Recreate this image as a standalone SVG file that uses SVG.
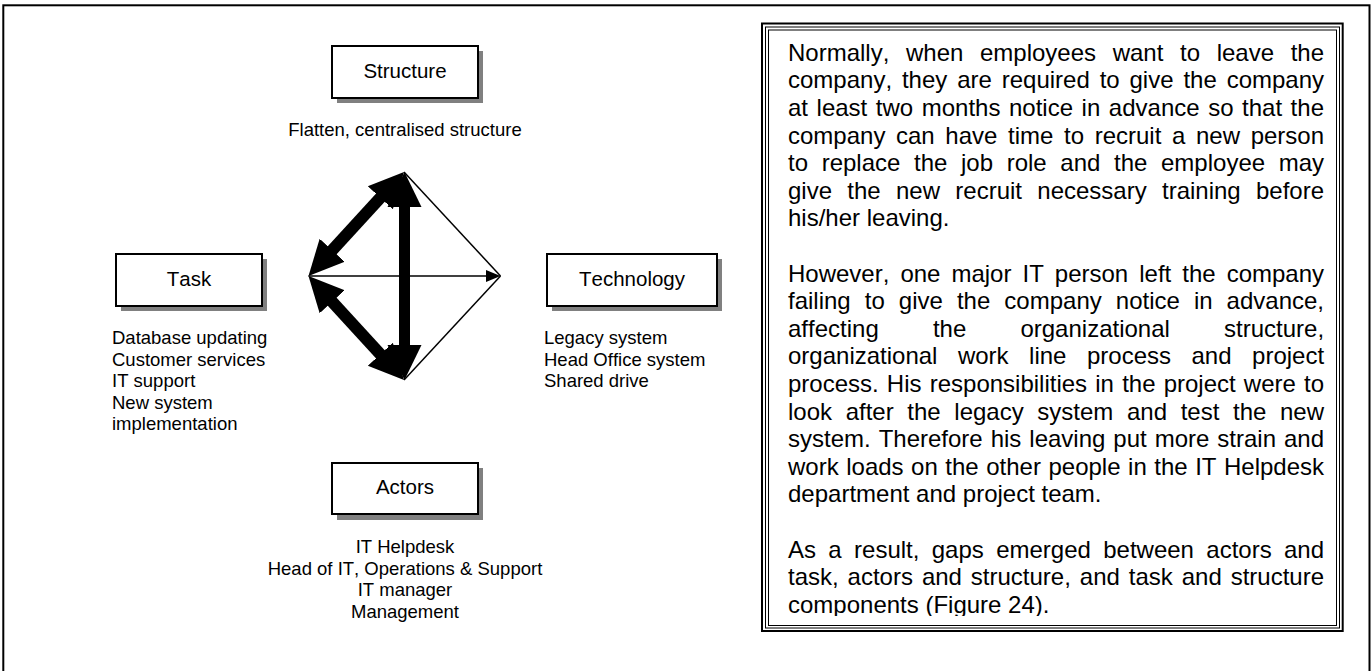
<svg xmlns="http://www.w3.org/2000/svg" width="1372" height="671" viewBox="0 0 1372 671">
<defs>
<style>
.t{font-family:"Liberation Sans",Arial,sans-serif;fill:#000;font-kerning:none}
.box{fill:#fff;stroke:#000;stroke-width:2}
.shadow{fill:#808080}
.bl{font-size:20.5px;text-anchor:middle}
.lb{font-size:18.5px}
.para{font-size:24px}
.thin{stroke:#000;stroke-width:1.5;fill:none}
.thick{stroke:#000;fill:none}
</style>
<marker id="bigHead" markerUnits="userSpaceOnUse" markerWidth="36" markerHeight="36" viewBox="0 0 36 36" refX="1" refY="18" orient="auto-start-reverse"><path d="M0,1 L35,18 L0,35 z" fill="#000"/></marker>
<clipPath id="textClip"><rect x="769" y="31" width="567" height="585"/></clipPath>
</defs>
<rect width="1372" height="671" fill="#fff"/>
<rect x="3.3" y="5.3" width="1366.2" height="700" fill="none" stroke="#000" stroke-width="2"/>

<g id="structure">
<rect class="shadow" x="337" y="51" width="146" height="52"/>
<rect class="box" x="332" y="46" width="146" height="52"/>
<text class="t bl" x="405" y="78">Structure</text>
<text class="t lb" x="405" y="136" text-anchor="middle">Flatten, centralised structure</text>
</g>

<g id="task">
<rect class="shadow" x="121" y="259" width="146" height="52"/>
<rect class="box" x="116" y="254" width="146" height="52"/>
<text class="t bl" x="189" y="286">Task</text>
<text class="t lb" x="112"><tspan x="112" y="344">Database updating</tspan><tspan x="112" y="365.5">Customer services</tspan><tspan x="112" y="387">IT support</tspan><tspan x="112" y="408.5">New system</tspan><tspan x="112" y="430">implementation</tspan></text>
</g>

<g id="technology">
<rect class="shadow" x="552" y="259" width="170" height="52"/>
<rect class="box" x="547" y="254" width="170" height="52"/>
<text class="t bl" x="632" y="286">Technology</text>
<text class="t lb"><tspan x="544" y="344">Legacy system</tspan><tspan x="544" y="365.5">Head Office system</tspan><tspan x="544" y="387">Shared drive</tspan></text>
</g>

<g id="actors">
<rect class="shadow" x="337" y="468" width="146" height="52"/>
<rect class="box" x="332" y="463" width="146" height="51"/>
<text class="t bl" x="405" y="494">Actors</text>
<text class="t lb" text-anchor="middle"><tspan x="405" y="553">IT Helpdesk</tspan><tspan x="405" y="574.5">Head of IT, Operations &amp; Support</tspan><tspan x="405" y="596">IT manager</tspan><tspan x="405" y="617.5">Management</tspan></text>
</g>

<g id="connectors">
<line class="thin" x1="404" y1="172" x2="500.5" y2="276"/>
<line class="thin" x1="500.5" y1="276" x2="404" y2="380"/>
<line class="thin" x1="308.5" y1="276" x2="487" y2="276"/>
<polygon points="486,270 500.5,276 486,282" fill="#000"/>
<line class="thick" stroke-width="12" x1="331.5" y1="250.96" x2="381" y2="197.04" marker-start="url(#bigHead)" marker-end="url(#bigHead)"/>
<line class="thick" stroke-width="12" x1="331.5" y1="301.04" x2="381" y2="354.96" marker-start="url(#bigHead)" marker-end="url(#bigHead)"/>
<line class="thick" stroke-width="11" x1="404.5" y1="206" x2="404.5" y2="346" marker-start="url(#bigHead)" marker-end="url(#bigHead)"/>
</g>

<g id="textbox">
<rect x="762" y="23.5" width="580.7" height="607.5" fill="none" stroke="#000" stroke-width="2"/>
<rect x="765.5" y="27" width="574" height="601" fill="none" stroke="#000" stroke-width="1"/>
<rect x="768.5" y="30" width="568" height="595.5" fill="none" stroke="#000" stroke-width="1"/>
<g clip-path="url(#textClip)">
<text class="t para" x="788" y="60.7" style="word-spacing:9.97px">Normally, when employees want to leave the</text>
<text class="t para" x="788" y="88.3" style="word-spacing:3.2px">company, they are required to give the company</text>
<text class="t para" x="788" y="115.9" style="word-spacing:1.89px">at least two months notice in advance so that the</text>
<text class="t para" x="788" y="143.5" style="word-spacing:3.97px">company can have time to recruit a new person</text>
<text class="t para" x="788" y="171.1" style="word-spacing:6.97px">to replace the job role and the employee may</text>
<text class="t para" x="788" y="198.7" style="word-spacing:8.63px">give the new recruit necessary training before</text>
<text class="t para" x="788" y="226.3">his/her leaving.</text>
<text class="t para" x="788" y="281.5" style="word-spacing:4.35px">However, one major IT person left the company</text>
<text class="t para" x="788" y="309.1" style="word-spacing:7.39px">failing to give the company notice in advance,</text>
<text class="t para" x="788" y="336.7" style="word-spacing:47.5px">affecting the organizational structure,</text>
<text class="t para" x="788" y="364.3" style="word-spacing:13.83px">organizational work line process and project</text>
<text class="t para" x="788" y="391.9" style="word-spacing:1.5px">process. His responsibilities in the project were to</text>
<text class="t para" x="788" y="419.5" style="word-spacing:6.97px">look after the legacy system and test the new</text>
<text class="t para" x="788" y="447.1" style="word-spacing:1.3px">system. Therefore his leaving put more strain and</text>
<text class="t para" x="788" y="474.7" style="word-spacing:0.86px">work loads on the other people in the IT Helpdesk</text>
<text class="t para" x="788" y="502.3">department and project team.</text>
<text class="t para" x="788" y="557.5" style="word-spacing:5.68px">As a result, gaps emerged between actors and</text>
<text class="t para" x="788" y="585.1" style="word-spacing:2.25px">task, actors and structure, and task and structure</text>
<text class="t para" x="788" y="612.7">components (Figure 24).</text>
</g>
</g>
</svg>
